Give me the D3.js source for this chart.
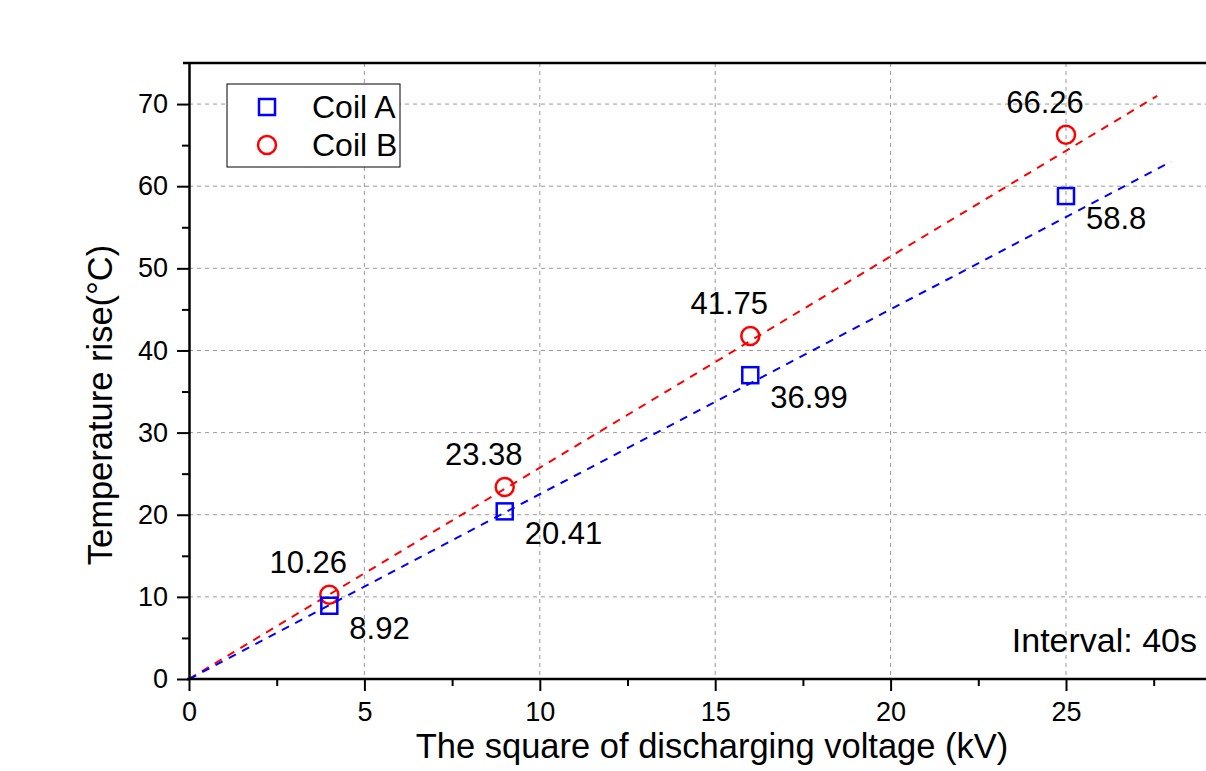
<!DOCTYPE html>
<html>
<head>
<meta charset="utf-8">
<script src="https://cdn.jsdelivr.net/npm/d3@7"></script>
<style>
  html, body { margin: 0; padding: 0; background: #fff; }
  svg { display: block; font-family: "Liberation Sans", Arial, sans-serif; }
</style>
</head>
<body>
<svg id="chart" width="1206" height="771"></svg>
<script>
// data
const voltageSq = [4, 9, 16, 25]
const coilA = [8.92, 20.41, 36.99, 58.8]
const coilB = [10.26, 23.38, 41.75, 66.26]
// fitted lines (through origin), end points
const fitAx = [0, 28], fitAy = [0, 63]
const fitBx = [0, 27.6], fitBy = [0, 71]
const xTicks = [0, 5, 10, 15, 20, 25]
const xMinor = [2.5, 7.5, 12.5, 17.5, 22.5, 27.5]
const yTicks = [0, 10, 20, 30, 40, 50, 60, 70]
const yMinor = [5, 15, 25, 35, 45, 55, 65]

const svg = d3.select('#chart')
const plotLeft = 189, plotBottom = 679, plotTop = 63
const x = d3.scaleLinear().domain([0, 30]).range([plotLeft, plotLeft + 30 * 35.08])
const y = d3.scaleLinear().domain([0, 75]).range([plotBottom, plotTop])

// grid
const grid = svg.append('g')
grid.selectAll('.gx').data(xTicks.slice(1)).enter().append('line')
    .attr('x1', d => x(d)).attr('x2', d => x(d))
    .attr('y1', plotTop).attr('y2', plotBottom)
    .attr('stroke', '#999').attr('stroke-width', 1).attr('stroke-dasharray', '4,4')
grid.selectAll('.gy').data(yTicks.slice(1)).enter().append('line')
    .attr('x1', plotLeft).attr('x2', 1206)
    .attr('y1', d => y(d)).attr('y2', d => y(d))
    .attr('stroke', '#999').attr('stroke-width', 1).attr('stroke-dasharray', '4,4')

// fit lines
const line = d3.line().x(d => x(d[0])).y(d => y(d[1]))
svg.append('path').datum(d3.zip(fitBx, fitBy)).attr('d', line)
    .attr('fill', 'none').attr('stroke', '#ff0000').attr('stroke-width', 2).attr('stroke-dasharray', '8,7')
svg.append('path').datum(d3.zip(fitAx, fitAy)).attr('d', line)
    .attr('fill', 'none').attr('stroke', '#0000ff').attr('stroke-width', 2).attr('stroke-dasharray', '8,7')

// axes
const xAxis = svg.append('g').attr('transform', `translate(0,${plotBottom})`)
    .call(d3.axisBottom(x).tickValues(xTicks).tickSize(12).tickSizeOuter(0).tickPadding(11))
const xAxisMinor = svg.append('g').attr('transform', `translate(0,${plotBottom})`)
    .call(d3.axisBottom(x).tickValues(xMinor).tickSize(7).tickFormat(''))
const yAxis = svg.append('g').attr('transform', `translate(${plotLeft},0)`)
    .call(d3.axisLeft(y).tickValues(yTicks).tickSize(12).tickSizeOuter(0).tickPadding(9))
const yAxisMinor = svg.append('g').attr('transform', `translate(${plotLeft},0)`)
    .call(d3.axisLeft(y).tickValues(yMinor).tickSize(7).tickFormat(''))
svg.selectAll('.domain').attr('stroke', '#000').attr('stroke-width', 2.5)
svg.selectAll('.tick line').attr('stroke', '#000').attr('stroke-width', 2)
svg.selectAll('.tick text').attr('font-size', 27).attr('fill', '#000')
    .attr('font-family', '"Liberation Sans", Arial, sans-serif')
xAxisMinor.select('.domain').remove()
yAxisMinor.select('.domain').remove()
// extend the x domain line to the right edge, top frame line
xAxis.select('.domain').attr('d', `M${plotLeft - 2},0H1206`)
svg.append('line').attr('x1', plotLeft - 6).attr('x2', 1206).attr('y1', plotTop).attr('y2', plotTop)
    .attr('stroke', '#000').attr('stroke-width', 2.5)

// markers
svg.selectAll('.mB').data(voltageSq).enter().append('circle')
    .attr('cx', d => x(d)).attr('cy', (d, i) => y(coilB[i])).attr('r', 9)
    .attr('fill', 'none').attr('stroke', '#ff0000').attr('stroke-width', 2.5)
svg.selectAll('.mA').data(voltageSq).enter().append('rect')
    .attr('x', d => x(d) - 8).attr('y', (d, i) => y(coilA[i]) - 8)
    .attr('width', 16).attr('height', 16)
    .attr('fill', 'none').attr('stroke', '#0000ff').attr('stroke-width', 2.5)

// value labels
svg.selectAll('.lB').data(voltageSq).enter().append('text')
    .attr('x', d => x(d) - 21).attr('y', (d, i) => y(coilB[i]) - 22)
    .attr('text-anchor', 'middle').attr('font-size', 31)
    .text((d, i) => coilB[i])
svg.selectAll('.lA').data(voltageSq).enter().append('text')
    .attr('x', d => x(d) + 20).attr('y', (d, i) => y(coilA[i]) + 33)
    .attr('font-size', 31)
    .text((d, i) => coilA[i])

// titles
svg.append('text').attr('x', 712).attr('y', 758).attr('text-anchor', 'middle')
    .attr('font-size', 34.5).text('The square of discharging voltage (kV)')
svg.append('text').attr('transform', 'translate(112,405) rotate(-90)').attr('text-anchor', 'middle')
    .attr('font-size', 34.5).text('Temperature rise(°C)')
svg.append('text').attr('x', 1197).attr('y', 652).attr('text-anchor', 'end')
    .attr('font-size', 34).text('Interval: 40s')

// legend
const lg = svg.append('g')
lg.append('rect').attr('x', 227).attr('y', 84).attr('width', 173).attr('height', 83)
    .attr('fill', '#fff').attr('stroke', '#000').attr('stroke-width', 1)
lg.append('rect').attr('x', 259).attr('y', 99).attr('width', 16).attr('height', 16)
    .attr('fill', 'none').attr('stroke', '#0000ff').attr('stroke-width', 2.5)
lg.append('circle').attr('cx', 267).attr('cy', 145).attr('r', 9)
    .attr('fill', 'none').attr('stroke', '#ff0000').attr('stroke-width', 2.5)
lg.append('text').attr('x', 312).attr('y', 118).attr('font-size', 32).text('Coil A')
lg.append('text').attr('x', 312).attr('y', 156).attr('font-size', 32).text('Coil B')
</script>
</body>
</html>
